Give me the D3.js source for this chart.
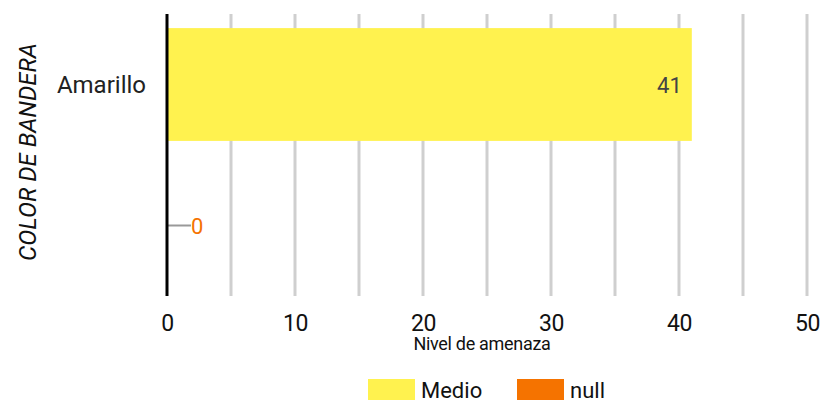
<!DOCTYPE html>
<html>
<head>
<meta charset="utf-8">
<script src="https://cdn.jsdelivr.net/npm/d3@7"></script>
<style>
  body { margin: 0; background: #fff; }
  text { font-family: Roboto, "Noto Sans", sans-serif; }
</style>
</head>
<body>
<div id="chart"></div>
<script>
// data
const categories = ["Amarillo", ""];
const series = ["Medio", "null"];
const values = [41, 0];
const colors = ["#fff24f", "#f57300"];
const xTicks = [0, 10, 20, 30, 40, 50];

const width = 821, height = 400;
const margin = { top: 14, left: 167, right: 14, bottom: 104 };
const plotW = 807 - margin.left;
const plotH = 296 - margin.top;

const svg = d3.select("#chart").append("svg")
  .attr("width", width)
  .attr("height", height);

const x = d3.scaleLinear().domain([0, 50]).range([margin.left, margin.left + plotW]);
const y = d3.scaleBand().domain(d3.range(categories.length))
  .range([margin.top, margin.top + plotH])
  .paddingInner(0.2).paddingOuter(0.1);

// grid lines every 5
svg.append("g")
  .selectAll("line")
  .data(d3.range(5, 51, 5))
  .join("line")
  .attr("x1", d => x(d)).attr("x2", d => x(d))
  .attr("y1", margin.top).attr("y2", margin.top + plotH)
  .attr("stroke", "#cfcfcf")
  .attr("stroke-width", 3);

// bars
svg.append("g")
  .selectAll("rect")
  .data(values)
  .join("rect")
  .attr("x", x(0))
  .attr("y", (d, i) => y(i))
  .attr("width", d => x(d) - x(0))
  .attr("height", y.bandwidth())
  .attr("fill", (d, i) => colors[i]);

// value labels
values.forEach((v, i) => {
  const cy = y(i) + y.bandwidth() / 2;
  if (v > 0) {
    svg.append("text")
      .attr("x", x(v) - 10)
      .attr("y", cy + 1)
      .attr("dy", "0.35em")
      .attr("text-anchor", "end")
      .attr("font-size", 22)
      .attr("fill", "#444")
      .text(v);
  } else {
    svg.append("line")
      .attr("x1", x(v)).attr("x2", x(v) + 24)
      .attr("y1", cy).attr("y2", cy)
      .attr("stroke", "#999")
      .attr("stroke-width", 2);
    svg.append("text")
      .attr("x", x(v) + 24)
      .attr("y", cy + 1)
      .attr("dy", "0.35em")
      .attr("font-size", 22)
      .attr("fill", colors[i])
      .text(v);
  }
});

// y axis line
svg.append("line")
  .attr("x1", x(0)).attr("x2", x(0))
  .attr("y1", margin.top).attr("y2", margin.top + plotH)
  .attr("stroke", "#000")
  .attr("stroke-width", 3);

// category labels
svg.append("g")
  .selectAll("text")
  .data(categories)
  .join("text")
  .attr("x", 146)
  .attr("y", (d, i) => y(i) + y.bandwidth() / 2)
  .attr("dy", "0.35em")
  .attr("text-anchor", "end")
  .attr("font-size", 24)
  .attr("fill", "#222")
  .text(d => d);

// x tick labels
const xAxis = d3.axisBottom(x).tickValues(xTicks).tickSize(0).tickPadding(0);
const gx = svg.append("g")
  .attr("transform", `translate(0, ${margin.top + plotH})`)
  .call(xAxis);
gx.select(".domain").remove();
gx.selectAll("text")
  .attr("dy", null)
  .attr("y", 35)
  .attr("font-size", 23)
  .attr("letter-spacing", -0.5)
  .attr("fill", "#111")
  .attr("font-family", "Roboto, sans-serif");

// axis titles
svg.append("text")
  .attr("x", 482)
  .attr("y", 350)
  .attr("text-anchor", "middle")
  .attr("font-size", 18)
  .attr("letter-spacing", -0.3)
  .attr("fill", "#111")
  .text("Nivel de amenaza");

svg.append("text")
  .attr("transform", `translate(36, ${152}) rotate(-90)`)
  .attr("text-anchor", "middle")
  .attr("font-size", 24)
  .attr("font-style", "italic")
  .attr("fill", "#111")
  .text("COLOR DE BANDERA");

// legend
const legendX = [368, 517];
series.forEach((s, i) => {
  svg.append("rect")
    .attr("x", legendX[i]).attr("y", 379)
    .attr("width", 47).attr("height", 22)
    .attr("fill", colors[i]);
  svg.append("text")
    .attr("x", legendX[i] + 53).attr("y", 398)
    .attr("font-size", 22)
    .attr("fill", "#111")
    .text(s);
});
</script>
</body>
</html>
